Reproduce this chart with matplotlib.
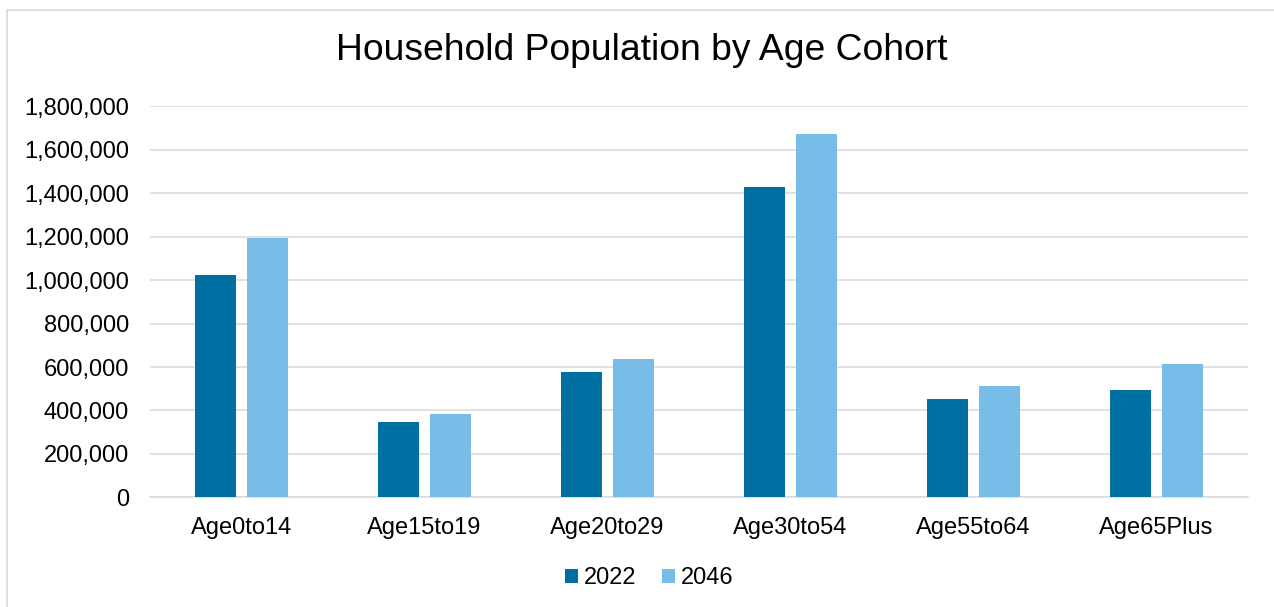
import matplotlib
matplotlib.use("Agg")
import matplotlib.pyplot as plt
import numpy as np
from matplotlib.ticker import FuncFormatter
from matplotlib.patches import Rectangle

categories = ["Age0to14", "Age15to19", "Age20to29", "Age30to54", "Age55to64", "Age65Plus"]
series_names = ["2022", "2046"]
values_2022 = [1023700, 346800, 575600, 1429000, 452700, 494000]
values_2046 = [1195500, 385000, 637000, 1671600, 511000, 613900]
y_ticks = [0, 200000, 400000, 600000, 800000, 1000000, 1200000, 1400000, 1600000, 1800000]
colors = ["#0070A2", "#77BDE8"]
title = "Household Population by Age Cohort"

plt.rcParams['font.family'] = ['Liberation Sans', 'DejaVu Sans']

W, H = 1274, 607
fig = plt.figure(figsize=(W / 100, H / 100), dpi=100)
fig.patch.set_facecolor("white")

# chart border
fig.patches.append(Rectangle((7 / W, 0 - 0.01), (W + 20) / W, (H - 10) / H + 0.01,
                             transform=fig.transFigure, fill=False,
                             edgecolor="#d9d9d9", linewidth=1.2))

ax = fig.add_axes([150 / W, 1 - 497.3 / H, (1248 - 150) / W, (497.3 - 106.4) / H])
x = np.arange(len(categories))
bw = 0.224
off = 0.142
ax.bar(x - off, values_2022, width=bw, color=colors[0], label=series_names[0], zorder=3)
ax.bar(x + off, values_2046, width=bw, color=colors[1], label=series_names[1], zorder=3)

ax.set_xlim(-0.5, len(categories) - 0.5)
ax.set_ylim(0, 1800000)
ax.set_yticks(y_ticks)
ax.yaxis.set_major_formatter(FuncFormatter(lambda v, p: f"{int(v):,}"))
ax.set_xticks(x)
ax.set_xticklabels(categories)
ax.tick_params(axis='both', length=0, labelsize=17, colors="#000000")
ax.tick_params(axis='y', pad=15)
ax.tick_params(axis='x', pad=14)
ax.grid(axis='y', color="#d9d9d9", linewidth=1.1, zorder=0)
ax.set_axisbelow(True)
for s in ["top", "right", "left"]:
    ax.spines[s].set_visible(False)
ax.spines["bottom"].set_color("#d9d9d9")
ax.spines["bottom"].set_linewidth(1.1)

fig.text(642 / W, 1 - 51 / H, title, ha="center", va="center", fontsize=26.8)

fig.legend(loc="center", bbox_to_anchor=(649 / W, 1 - 578 / H), ncol=2, frameon=False,
           fontsize=17, handlelength=0.55, handleheight=0.55, handletextpad=0.25,
           columnspacing=1.1)

fig.savefig("out.png", dpi=100)
